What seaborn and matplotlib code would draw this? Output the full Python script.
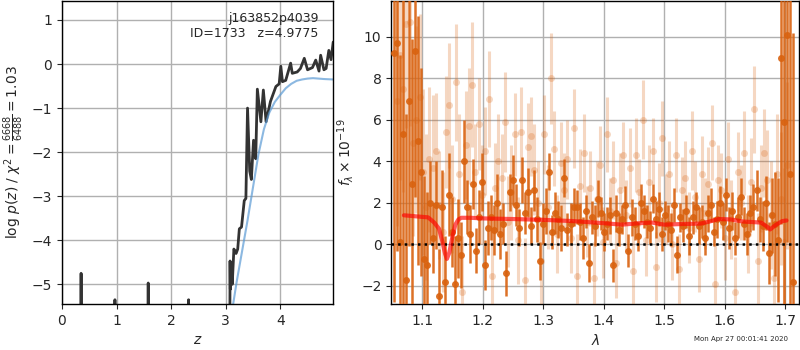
import numpy as np
import pandas as pd
import seaborn as sns
import matplotlib
matplotlib.use("Agg")
import matplotlib.pyplot as plt

# ---- p(z) panel ----
pz_z = [0.00, 0.34, 0.35, 0.36, 0.96, 0.97, 0.98, 1.57, 1.58, 1.59, 2.31, 2.32, 2.33,
        3.07, 3.08, 3.085, 3.09, 3.12, 3.15, 3.19, 3.22, 3.25, 3.29, 3.34, 3.37, 3.40,
        3.44, 3.47, 3.51, 3.55, 3.58, 3.645, 3.69, 3.74, 3.82, 3.92, 3.98, 4.01, 4.04,
        4.10, 4.19, 4.22, 4.31, 4.37, 4.44, 4.50, 4.59, 4.65, 4.71, 4.74, 4.80, 4.84,
        4.89, 4.93, 4.97]
pz_log = [-8.0, -8.0, -4.75, -8.0, -8.0, -5.35, -8.0, -8.0, -4.97, -8.0, -8.0, -5.35, -8.0,
          -8.0, -4.47, -5.11, -4.55, -5.0, -4.20, -4.30, -4.20, -3.74, -3.70, -3.10, -3.05, -1.00,
          -2.43, -2.62, -1.73, -2.15, -0.57, -1.31, -0.59, -1.31, -0.85, -0.51, -0.45, -0.05, -0.40,
          -0.37, 0.02, -0.21, -0.18, -0.10, 0.13, -0.13, -0.08, 0.09, -0.16, 0.20, -0.13, -0.10,
          0.31, 0.10, 0.50]

prior_z = [3.13, 3.20, 3.30, 3.40, 3.50, 3.60, 3.70, 3.80, 3.90, 4.00, 4.10, 4.20, 4.30,
           4.40, 4.50, 4.60, 4.70, 4.80, 4.97]
prior_log = [-5.5, -4.95, -4.25, -3.55, -2.80, -2.05, -1.48, -1.10, -0.86, -0.70, -0.55,
             -0.45, -0.38, -0.35, -0.33, -0.32, -0.33, -0.34, -0.35]

# ---- spectrum panel ----
dark_flux = [9.2, 9.7, 0.1, 5.3, -1.7, 6.9, 2.9, 9.3, 5.0, 3.5, -0.7, -1.0,
             2.0, 0.3, 1.9, -2.5, 1.8, -1.8, 2.4, 0.6, -1.9, 0.3, -0.5, 4.0,
             1.8, 0.5, 2.9, -0.3, 1.3, 3.0, -1.0, 0.8, 1.3, 0.7, 2.0, 0.5,
             1.0, -1.4, 2.5, 3.1, 1.9, 0.8, 3.1, 1.5, 2.5, 0.9, 2.6, 1.2,
             -0.8, 1.0, 1.6, 3.5, 0.6, 1.5, 1.2, 0.8, 3.2, 0.7, 1.0, 1.8,
             1.8, 1.1, 0.3, 1.6, -0.9, 1.3, 0.9, 2.2, 1.5, 0.6, 1.0, 1.4,
             -1.0, 1.5, 0.7, 1.2, 1.9, -0.3, 1.3, 1.0, 0.4, 2.0, 1.6, 1.1,
             0.8, 2.2, 1.2, 1.7, 0.5, 1.4, 1.0, 0.7, 1.9, -0.5, 1.3, 0.9,
             1.6, 0.4, 1.3, 1.8, 0.9, 1.1, 0.3, 1.5, 1.9, 0.6, 1.2, 2.0,
             1.1, 2.4, 0.8, 1.6, 0.3, 1.3, 2.3, 1.0, 0.5, 1.5, 1.8, 2.6,
             1.2, 0.9, 2.0, -0.4, 1.4, 1.0, 0.2, 9.0, 5.9, 10.1, 3.4, -1.8]
dark_err = [12, 10, 9, 9, 8, 7, 7, 7, 6, 5, 4, 3.5,
            2.0, 1.7, 2.1, 2.3, 1.8, 2.2, 2.0, 1.7, 2.3, 1.9, 1.6, 2.0,
            1.3, 1.4, 1.2, 1.1, 1.3, 1.4, 1.2, 1.3, 1.1, 1.2, 1.4, 1.2,
            1.0, 1.1, 0.9, 1.2, 1.0, 0.9, 1.1, 1.0, 1.2, 0.9, 1.0, 1.1,
            0.9, 1.0, 1.1, 0.9, 0.8, 1.0, 0.9, 1.1, 0.9, 0.8, 1.0, 0.9,
            0.8, 0.9, 1.0, 0.8, 0.9, 0.8, 1.0, 0.9, 0.8, 0.9, 0.8, 0.9,
            0.8, 0.9, 0.8, 0.7, 0.9, 0.8, 0.9, 0.8, 0.7, 0.9, 0.8, 0.8,
            0.8, 0.7, 0.9, 0.8, 0.8, 0.7, 0.9, 0.8, 0.8, 0.9, 0.7, 0.8,
            0.8, 0.9, 0.8, 0.7, 0.9, 0.8, 0.8, 0.9, 0.8, 0.7, 0.9, 0.8,
            0.9, 0.8, 1.0, 0.9, 0.8, 1.0, 0.9, 0.8, 1.0, 0.9, 1.1, 1.0,
            1.1, 1.2, 1.3, 1.5, 1.8, 2.5, 3.0, 8, 9, 10, 10, 12]

light_flux = [6.9, 9.1, 7.5, 10.6, 10.7, 4.9, 6.0, 7.1, 3.5, 1.8, 4.1, 3.7,
              4.5, 1.9, 0.6, 5.4, 6.7, 2.2, 7.8, 3.4, -2.3, 4.8, 5.7, 7.7,
              3.5, 5.8, 2.4, 4.5, 7.0, -1.5, 2.7, 4.0, 3.2, 5.9, 1.1, 2.5,
              5.3, 0.2, 5.4, -1.7, 4.7, 5.2, 3.6, 2.0, -0.8, 5.3, 1.8, 8.0,
              4.6, 0.5, 3.9, 2.6, 4.1, 0.3, 5.6, -1.5, 2.8, 4.4, 1.1, 2.7,
              -1.6, 2.2, 3.8, 0.1, 5.3, 1.6, 3.1, -0.9, 2.6, 4.3, 1.4, 3.7,
              -1.3, 4.3, 2.5, 6.0, 0.2, 3.0, 4.5, -1.1, 2.0, 5.1, 1.7, 3.4,
              0.0, 4.3, -1.2, 2.6, 3.2, 0.8, 4.5, 2.3, -0.7, 3.4, 1.5, 2.9,
              4.9, -1.9, 3.1, 2.6, 0.3, 4.1, 1.2, -2.3, 3.5, 2.0, 4.4, 0.5,
              3.0, 6.5, -0.8, 2.7, 4.4, 3.1, 1.4, -1.6, 3.4, 2.2, 0.1, 3.8]
light_err = [6, 6, 5, 5, 5, 4.5, 4.5, 4, 4, 3.5, 3.5, 3.5,
             2.8, 2.6, 2.9, 2.7, 3.0, 2.6, 2.8, 2.9, 2.7, 2.6, 2.8, 3.0,
             2.3, 2.2, 2.4, 2.1, 2.3, 2.4, 2.2, 2.3, 2.1, 2.4, 2.2, 2.3,
             2.0, 2.1, 2.2, 2.0, 2.1, 1.9, 2.2, 2.0, 2.1, 1.9, 2.0, 2.2,
             1.8, 1.9, 2.0, 1.8, 1.9, 1.7, 1.9, 2.0, 1.8, 1.9, 1.7, 1.8,
             1.7, 1.8, 1.9, 1.7, 1.8, 1.6, 1.9, 1.7, 1.8, 1.6, 1.7, 1.9,
             1.7, 1.8, 1.6, 1.9, 1.7, 1.8, 1.6, 1.7, 1.9, 1.8, 1.7, 1.6,
             1.7, 1.8, 1.7, 1.6, 1.8, 1.7, 1.9, 1.7, 1.6, 1.8, 1.7, 1.8,
             1.8, 1.9, 1.7, 1.8, 2.0, 1.8, 1.9, 1.7, 1.9, 1.8, 2.0, 1.9,
             2.1, 2.1, 2.3, 2.1, 2.1, 2.4, 2.6, 2.7, 2.9, 3.2, 3.6, 4.0]

model_wave = [1.070, 1.090, 1.110, 1.120, 1.128, 1.133, 1.138, 1.141, 1.145, 1.150,
              1.155, 1.160, 1.165, 1.180, 1.200, 1.250, 1.300, 1.350, 1.400, 1.430,
              1.460, 1.480, 1.500, 1.530, 1.560, 1.575, 1.590, 1.610, 1.630, 1.660,
              1.670, 1.675, 1.685, 1.695, 1.702]
model_flux = [1.40, 1.35, 1.30, 1.05, 0.75, 0.20, -0.45, -0.70, -0.40, 0.35,
              0.95, 1.20, 1.28, 1.28, 1.25, 1.22, 1.18, 1.12, 1.02, 0.95,
              1.02, 1.05, 0.95, 0.98, 1.00, 1.10, 1.22, 1.20, 1.10, 1.05,
              0.85, 0.72, 0.95, 1.12, 1.15]

# pixel grids of the two spectra (regular sampling)
dark_wave = np.linspace(1.053, 1.713, len(dark_flux))
light_wave = np.linspace(1.058, 1.703, len(light_flux))

sns.set_style("white")
plt.rcParams["font.family"] = ["DejaVu Sans"]
plt.rcParams["mathtext.fontset"] = "dejavusans"

fig = plt.figure(figsize=(8, 3.5), dpi=100)
ax1 = fig.add_axes([0.0775, 0.131, 0.339, 0.866])
ax2 = fig.add_axes([0.489, 0.131, 0.510, 0.866])

orange = "#d9620f"

# left: redshift PDF
pz = pd.DataFrame({"z": pz_z, "logp": pz_log})
pr = pd.DataFrame({"z": prior_z, "logp": prior_log})
sns.lineplot(data=pz, x="z", y="logp", ax=ax1, color="0.2", lw=2, sort=False,
             estimator=None)
sns.lineplot(data=pr, x="z", y="logp", ax=ax1, color="#5b9bd5", lw=1.5, alpha=0.7,
             sort=False, estimator=None)
ax1.set_xlim(0, 4.97)
ax1.set_ylim(-5.45, 1.43)
ax1.set_xticks([0, 1, 2, 3, 4])
ax1.set_yticks([-5, -4, -3, -2, -1, 0, 1])
ax1.set_xlabel("$z$")
ax1.set_ylabel(r"log $p(z)$ / $\chi^2=\frac{6668}{6488}=1.03$")
ax1.text(0.945, 0.965, "j163852p4039\nID=1733   z=4.9775", transform=ax1.transAxes,
         ha="right", va="top", fontsize=9)

# right: spectrum
ax2.errorbar(light_wave, light_flux, yerr=light_err, fmt="o", color=orange,
             alpha=0.25, ms=5, elinewidth=2.2, mec="none", zorder=3)
ax2.errorbar(dark_wave, dark_flux, yerr=dark_err, fmt="o", color=orange,
             alpha=0.9, ms=5, elinewidth=1.8, mec="none", zorder=4)
md = pd.DataFrame({"wave": model_wave, "flux": model_flux})
sns.lineplot(data=md, x="wave", y="flux", ax=ax2, color="red", lw=3, alpha=0.65,
             sort=False, estimator=None, zorder=10)
ax2.axhline(0, color="k", ls=":", lw=1.8, zorder=6)
ax2.set_xlim(1.049, 1.723)
ax2.set_ylim(-2.88, 11.72)
ax2.set_xticks([1.1, 1.2, 1.3, 1.4, 1.5, 1.6, 1.7])
ax2.set_yticks([-2, 0, 2, 4, 6, 8, 10])
ax2.set_xlabel(r"$\lambda$")
ax2.set_ylabel(r"$f_\lambda\times 10^{-19}$")

for ax in (ax1, ax2):
    ax.grid(True, color="#b0b0b0", lw=1)
    ax.set_axisbelow(True)
    ax.tick_params(direction="out", length=3.5, width=0.8, labelsize=10,
                   left=True, bottom=True)
    for s in ax.spines.values():
        s.set_color("black")
        s.set_linewidth(1)

fig.text(0.985, 0.031, "Mon Apr 27 00:01:41 2020", ha="right", va="center", fontsize=5)

fig.savefig("out.png", dpi=100)
